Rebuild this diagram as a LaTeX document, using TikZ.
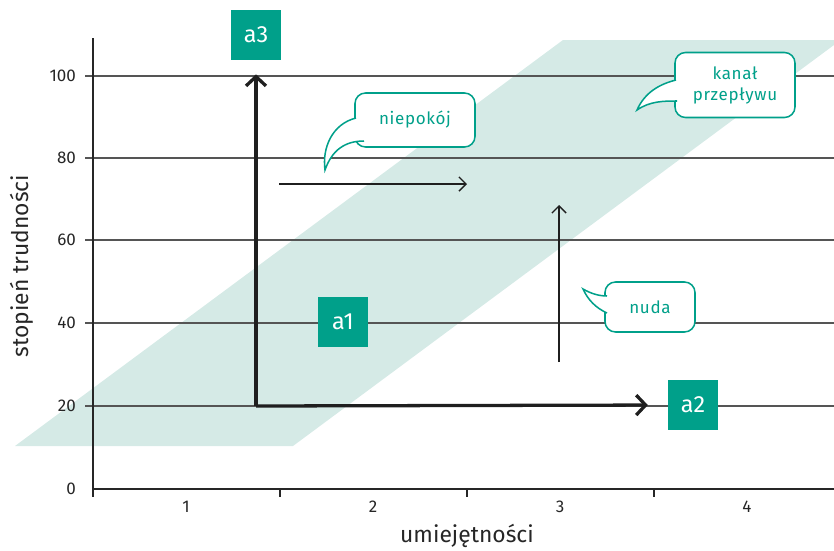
\documentclass[tikz,border=0pt]{standalone}
\usepackage{fontspec}
\setmainfont{Fira Sans}
\usetikzlibrary{arrows.meta}
\definecolor{flowteal}{HTML}{00A08A}
\definecolor{flowband}{HTML}{D5EAE6}
\definecolor{gridgray}{HTML}{555555}
\tikzset{
  stepbox/.style={fill=flowteal, text=white, minimum size=1.5cm, inner sep=0pt,
    font=\fontsize{20}{24}\selectfont},
  bubble/.style={draw=flowteal, line width=1.3pt, rounded corners=9pt, fill=white,
    text=flowteal, align=center, inner sep=0pt,
    font=\fontsize{14.5}{18}\selectfont\addfontfeature{LetterSpace=4}},
  tail/.style={draw=flowteal, line width=1.3pt},
  ticklabel/.style={font=\fontsize{14.5}{17}\selectfont, text=black!85},
  axistitle/.style={font=\fontsize{19.5}{22}\selectfont, text=black!85},
  bigarrow/.style={line width=2.8pt, black!88, -{Straight Barb[length=8pt,width=17pt,line width=2.8pt]}},
  smallarrow/.style={line width=1.2pt, black!88, -{Straight Barb[length=6pt,width=12pt,line width=1.2pt]}}
}
\begin{document}
\begin{tikzpicture}[x=0.03cm, y=-0.03cm]
  \useasboundingbox (0,0) rectangle (834,550);
  % flow channel
  \fill[flowband] (15,446) -- (293,446) -- (834,45) -- (834,40) -- (563,40) -- cycle;
  % grid and axes
  \foreach \v/\y in {20/406,40/323,60/240,80/158,100/76} {
    \draw[gridgray, line width=0.9pt] (85,\y) -- (834,\y);
    \path (80,\y) node[ticklabel, anchor=east] {\v};
  }
  \path (80,489) node[ticklabel, anchor=east] {0};
  \draw[black!85, line width=0.9pt] (93,38) -- (93,497);
  \draw[black!85, line width=0.9pt] (93,489) -- (834,489);
  \foreach \x in {280,467,654} \draw[black!85, line width=0.9pt] (\x,489) -- (\x,497);
  \foreach \n/\x in {1/186,2/373,3/560,4/747}
    \path (\x,507) node[ticklabel] {\n};
  \path (467,536) node[axistitle] {umiejętności};
  \path (22,266) node[rotate=90, axistitle] {stopień trudności};
  % boxes
  \node[stepbox] (a3) at (256,35) {a3};
  \node[stepbox] (a1) at (343,322) {a1};
  \node[stepbox] (a2) at (693,405) {a2};
  \coordinate (origin) at (256,406);
  \draw[bigarrow, shorten >=12pt] (origin) -- (a3.south);
  \draw[bigarrow, shorten >=17pt] (origin) -- (a2.west);
  % small arrows
  \coordinate (rightstart) at (279,184);
  \coordinate (rightend) at (467,184);
  \coordinate (upstart) at (559,362);
  \coordinate (upend) at (559,205);
  \draw[smallarrow] (rightstart) -- (rightend);
  \draw[smallarrow] (upstart) -- (upend);
  % callouts
  \node[bubble, minimum width=3.6cm, minimum height=1.62cm] (worry) at (415,120) {niepokój};
  \fill[white] (356,118) .. controls (332,124) and (322,148) .. (325,170)
    .. controls (332,150) and (345,141) .. (364,141) -- cycle;
  \draw[tail] (356,118) .. controls (332,124) and (322,148) .. (325,170)
    .. controls (332,150) and (345,141) .. (364,141);
  \node[bubble, minimum width=3.6cm, minimum height=1.95cm] (channel) at (735,85) {kanał\\przepływu};
  \fill[white] (676,80) .. controls (660,84) and (645,92) .. (637,110)
    .. controls (650,101) and (664,101) .. (677,101) -- cycle;
  \draw[tail] (676,80) .. controls (660,84) and (645,92) .. (637,110)
    .. controls (650,101) and (664,101) .. (677,101);
  \node[bubble, minimum width=2.7cm, minimum height=1.5cm] (bore) at (650,307) {nuda};
  \fill[white] (607,296) .. controls (598,296) and (590,293) .. (583,289)
    .. controls (588,300) and (596,308) .. (607,313) -- cycle;
  \draw[tail] (607,296) .. controls (598,296) and (590,293) .. (583,289)
    .. controls (588,300) and (596,308) .. (607,313);
\end{tikzpicture}
\end{document}
